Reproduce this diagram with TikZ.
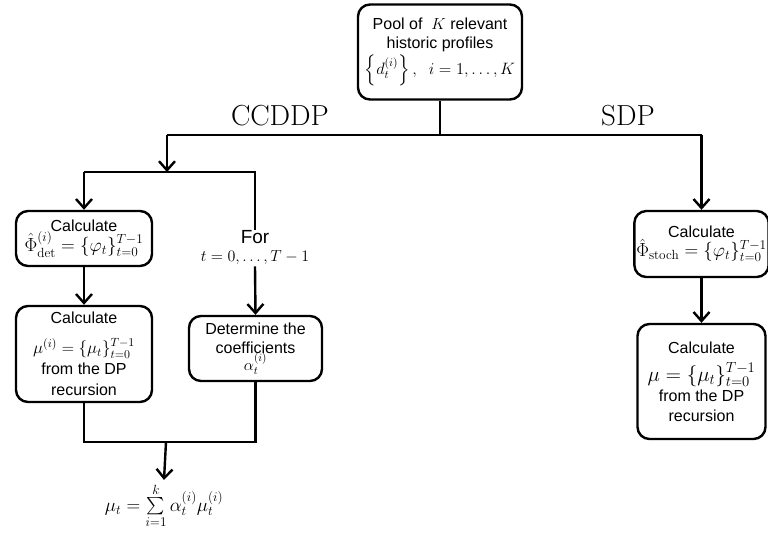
\documentclass[tikz,border=0pt]{standalone}
\usepackage{fix-cm}
\usepackage{amsmath}
\usepackage[no-math]{fontspec}
\setmainfont{Liberation Sans}
\usetikzlibrary{arrows.meta}

\tikzset{
  box/.style={draw, line width=2.4pt, rounded corners=12pt, align=center, inner sep=2pt},
  flow/.style={line width=2.4pt},
  arr/.style={flow, -{Straight Barb[length=9pt,width=16pt]}},
  lbl/.style={font=\fontsize{29}{31}\selectfont},
  every node/.style={font=\fontsize{16}{19}\selectfont}
}

\begin{document}
\begin{tikzpicture}[x=1pt,y=-1pt]
  \useasboundingbox (0,0) rectangle (768,533);
  % pool of profiles
  \node[box, minimum width=164pt, minimum height=95pt] (pool) at (440,52)
    {Pool of \ $K$ relevant\\historic profiles\\[2pt]
     {\fontsize{16.5}{18}\selectfont$\left\{d_t^{(i)}\right\},\ \ i=1,\dots,K$}};
  \coordinate (ccl) at (167,135);
  \coordinate (fork) at (167,172);
  % CCDDP branch
  \node[box, minimum width=136pt, minimum height=55pt] (phidet) at (84,238.5)
    {Calculate\\[-1pt]{\fontsize{19}{21}\selectfont$\hat{\Phi}^{(i)}_{\mathrm{det}}=\{\varphi_t\}_{t=0}^{T-1}$}};
  \node[box, minimum width=136pt, minimum height=96pt, font=\fontsize{16}{21}\selectfont] (mudet) at (84,354)
    {Calculate\\[9pt]{\fontsize{17}{18}\selectfont$\mu^{(i)}=\{\mu_t\}_{t=0}^{T-1}$}\\from the DP\\recursion};
  \node[inner sep=1pt, align=center] (loop) at (255,248)
    {{\fontsize{19}{20}\selectfont For}\\[-1pt]{\fontsize{16}{18}\selectfont$t=0,\dots,T-1$}};
  \node[box, minimum width=133pt, minimum height=65pt] (coef) at (255.5,348.5)
    {Determine the\\coefficients\\[-2pt]{\fontsize{16}{17}\selectfont$\alpha_t^{(i)}$}};
  \node (sum) at (164,506)
    {{\fontsize{19}{21}\selectfont$\mu_t=\sum\limits_{i=1}^{k}\alpha_t^{(i)}\mu_t^{(i)}$}};
  % SDP branch
  \node[box, minimum width=128pt, minimum height=66pt] (sdpphi) at (701.5,244)
    {Calculate\\{\fontsize{19}{21}\selectfont$\hat{\Phi}_{\mathrm{stoch}}=\{\varphi_t\}_{t=0}^{T-1}$}};
  \node[box, minimum width=128pt, minimum height=115pt, font=\fontsize{16}{20}\selectfont] (sdpmu) at (701.5,381.5)
    {Calculate\\[8pt]{\fontsize{21}{23}\selectfont$\mu=\{\mu_t\}_{t=0}^{T-1}$}\\from the DP\\recursion};
  \node[lbl] (ccddp) at (280,116) {$\mathrm{CCDDP}$};
  \node[lbl] (sdp) at (628,116) {$\mathrm{SDP}$};
  % connectors
  \draw[flow] (pool) -- (pool |- ccl);
  \draw[flow] (ccl) -- (sdpphi.north |- ccl);
  \draw[arr] (sdpphi.north |- ccl) -- (sdpphi.north);
  \draw[arr] (ccl) -- (fork);
  \draw[flow] (phidet.north |- fork) -- (loop.north |- fork) -- (loop.north);
  \draw[arr] (phidet.north |- fork) -- (phidet.north);
  \draw[arr] (phidet) -- (mudet);
  \draw[arr] (loop.south) -- (coef.north);
  \coordinate (join) at (166,442);
  \draw[flow] (mudet.south) |- (join) -| (coef.south);
  \draw[arr] (join) -- (sum.north);
  \draw[arr] (sdpphi) -- (sdpmu);
\end{tikzpicture}
\end{document}
